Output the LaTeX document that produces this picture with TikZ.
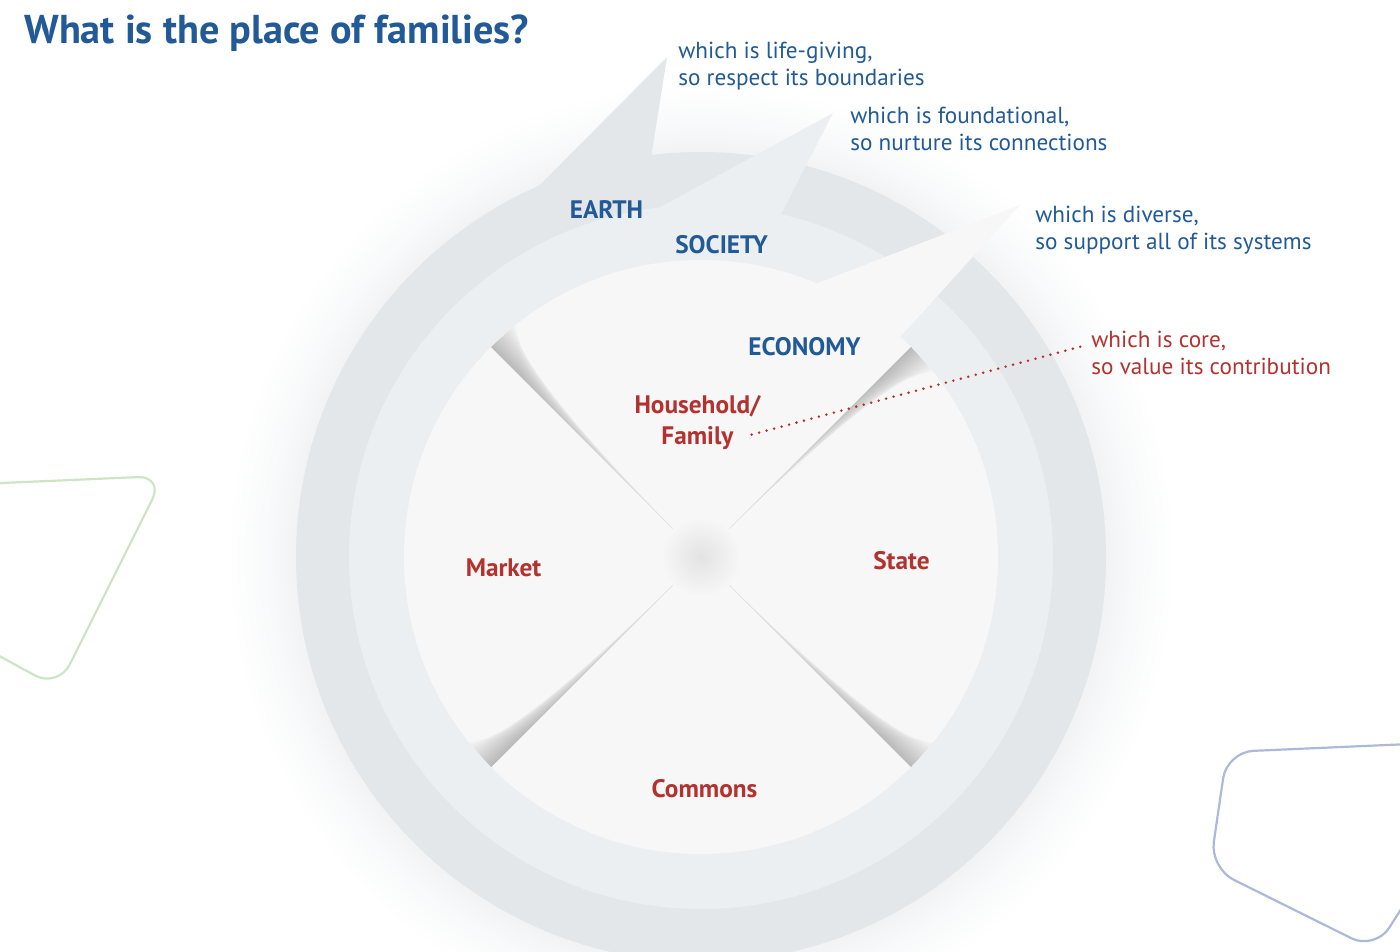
\documentclass[tikz,border=0pt]{standalone}
\usepackage{fontspec}
\setmainfont{PT Sans}
\usetikzlibrary{calc}

\definecolor{noteblue}{HTML}{215A96}
\definecolor{corered}{HTML}{B3322F}
\definecolor{earthgray}{HTML}{E3E7EA}
\definecolor{socgray}{HTML}{ECEFF1}
\definecolor{ecowhite}{HTML}{F7F7F7}
\definecolor{leafgreen}{HTML}{CDE5C4}
\definecolor{slateblue}{HTML}{AEB9DA}

\pgfdeclareradialshading{glow}{\pgfpoint{0bp}{0bp}}{color(0bp)=(earthgray); color(20.5bp)=(earthgray!55!white); color(22bp)=(earthgray!25!white); color(24.2bp)=(white); color(50bp)=(white)}

\tikzset{
  note/.style={font=\fontsize{13.2}{15.4}\selectfont, text=noteblue, align=left, anchor=north west, inner sep=0pt},
  corenote/.style={note, text=corered},
  level/.style={font=\fontsize{14.4}{18}\selectfont\bfseries, text=noteblue, anchor=base},
  sector/.style={font=\fontsize{14.4}{18}\selectfont\bfseries, text=corered, anchor=base},
  dots/.style={corered, line width=1.6pt, line cap=round, dash pattern=on 0pt off 4.4pt},
  frame/.style={line width=1.25pt, rounded corners=15pt},
}

\begin{document}
\begin{tikzpicture}[x=0.02cm, y=-0.02cm, line join=round]
\useasboundingbox (0,0) rectangle (1400,952);
\fill[white] (0,0) rectangle (1400,952);

\coordinate (C) at (701,557);

% rings
\shade[shading=glow] (C) circle (490);
\fill[earthgray] (C) circle (405);
\fill[earthgray] (528,197) -- (667,57) -- (649,171) -- cycle;
\fill[socgray] (C) circle (352);
\fill[socgray] (655,210) -- (833,113) -- (778,220) -- cycle;
\fill[ecowhite] (C) circle (297);
\fill[ecowhite] (792,293) -- (1020,205) -- (890,348) -- cycle;

% creases between the sectors
\foreach \a/\s in {225/1,315/1,135/1,45/-1}{
  \foreach \k in {1,...,20}
    \fill[black, opacity=0.013] ($(C)+(\a:{\k*13-13})$) -- ($(C)+(\a:297)$) -- ($(C)+(\a+\s*\k*0.32:297)$) -- cycle;
  \draw[black, opacity=0.07, line width=0.4pt] (C) -- ($(C)+(\a:297)$);
}
\shade[inner color=gray!22, outer color=ecowhite] (C) circle (40);

% labels
\node[font=\fontsize{22.9}{27}\selectfont\bfseries, text=noteblue, anchor=base west, inner sep=0pt] (title) at (24,44) {What is the place of families?};

\node[note] (life) at (678,41.5) {which is life-giving,\\so respect its boundaries};
\node[note] (found) at (850,107) {which is foundational,\\so nurture its connections};
\node[note] (diverse) at (1035,206) {which is diverse,\\so support all of its systems};
\node[corenote] (core) at (1091,331) {which is core,\\so value its contribution};

\node[level] (earth) at (606.5,218.3) {EARTH};
\node[level] (society) at (721.5,254) {SOCIETY};
\node[level] (economy) at (804.5,355.5) {ECONOMY};

\node[sector, anchor=north, align=center] (home) at (697.5,389) {Household/\\Family};
\node[sector] (market) at (503.5,576.5) {Market};
\node[sector] (state) at (901.5,570) {State};
\node[sector] (commons) at (704.5,797) {Commons};

\draw[dots] ($(home.east)+(-15,12)$) -- ($(core.north west)+(-8,15)$);

% corner frames
\draw[leafgreen, frame] (-10,483.5) -- (164,476) -- (58,688) -- (-10,651);
\draw[slateblue, frame] (1410,744) -- (1227,752) -- (1210,868) -- (1375,950) -- (1412,892);
\end{tikzpicture}
\end{document}
